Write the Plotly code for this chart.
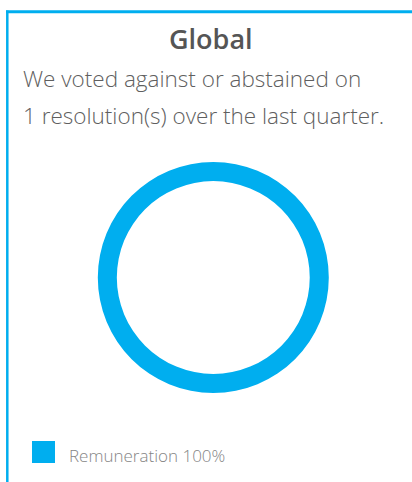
import plotly.graph_objects as go

# ---- data ----
labels = ["Remuneration"]
values = [100]
colors = ["#00AEEF"]
title_text = "Global"
subtitle_lines = ["We voted against or abstained on",
                  "1 resolution(s) over the last quarter."]

W, H = 412, 482
FONT = "Open Sans"


def px_x(x):
    return x / W


def px_y(y):
    return 1 - y / H


total = sum(values)
pcts = [round(v / total * 100) for v in values]

fig = go.Figure()

cx, cy, r = 213.3, 277.5, 115.5
fig.add_trace(go.Pie(
    labels=labels,
    values=values,
    hole=0.835,
    sort=False,
    direction="clockwise",
    marker=dict(colors=colors, line=dict(width=0)),
    textinfo="none",
    hoverinfo="label+percent",
    showlegend=False,
    domain=dict(x=[px_x(cx - r), px_x(cx + r)], y=[px_y(cy + r), px_y(cy - r)]),
))

shapes = [
    # border lines
    dict(type="line", xref="paper", yref="paper",
         x0=px_x(6), x1=px_x(420), y0=px_y(11.7), y1=px_y(11.7),
         line=dict(color="#00AEEF", width=3)),
    dict(type="line", xref="paper", yref="paper",
         x0=px_x(7.3), x1=px_x(7.3), y0=px_y(10.5), y1=px_y(490),
         line=dict(color="#00AEEF", width=2.5)),
]

annotations = [
    dict(text=title_text, x=px_x(211), y=px_y(38.8), xref="paper", yref="paper",
         xanchor="center", yanchor="middle", showarrow=False,
         font=dict(family=FONT, size=27, color="#555555", weight=600)),
]
sub_centers = [78.6, 115.2]
for line, yc in zip(subtitle_lines, sub_centers):
    annotations.append(dict(text=line, x=px_x(21), y=px_y(yc), xref="paper", yref="paper",
                            xanchor="left", yanchor="middle", showarrow=False,
                            font=dict(family=FONT, size=22.5, color="#5f5f5f", weight=300)))

# legend entries drawn from data
leg_y0 = 441
for i, (lab, pc, col) in enumerate(zip(labels, pcts, colors)):
    y0 = leg_y0 + i * 30
    shapes.append(dict(type="rect", xref="paper", yref="paper",
                       x0=px_x(32), x1=px_x(55), y0=px_y(y0 + 22), y1=px_y(y0),
                       fillcolor=col, line=dict(width=0)))
    annotations.append(dict(text=f"{lab} {pc}%", x=px_x(67), y=px_y(y0 + 14.5), xref="paper",
                            yref="paper", xanchor="left", yanchor="middle", showarrow=False,
                            font=dict(family=FONT, size=17, color="#858585", weight=300)))

fig.update_layout(
    width=W, height=H, autosize=False,
    margin=dict(l=0, r=0, t=0, b=0),
    paper_bgcolor="white", plot_bgcolor="white",
    shapes=shapes, annotations=annotations,
    showlegend=False,
)

fig.write_html("out.html", config={"displayModeBar": False},
               post_script="document.body.style.margin='0';document.body.style.overflow='hidden';")
